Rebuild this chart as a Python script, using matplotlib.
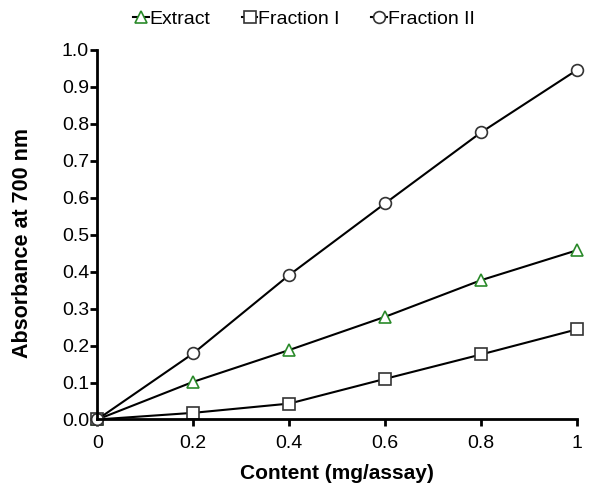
import matplotlib.pyplot as plt

plt.rcParams['font.family'] = ['Liberation Sans', 'DejaVu Sans']

content = [0, 0.2, 0.4, 0.6, 0.8, 1.0]
extract = [0.0, 0.102, 0.188, 0.278, 0.377, 0.458]
fraction1 = [0.0, 0.018, 0.043, 0.110, 0.176, 0.244]
fraction2 = [0.0, 0.179, 0.391, 0.585, 0.777, 0.946]

xticks = [0, 0.2, 0.4, 0.6, 0.8, 1.0]
xticklabels = ['0', '0.2', '0.4', '0.6', '0.8', '1']
yticks = [0.0, 0.1, 0.2, 0.3, 0.4, 0.5, 0.6, 0.7, 0.8, 0.9, 1.0]

fig = plt.figure(figsize=(5.9, 4.83), dpi=100)
ax = fig.add_axes([0.165, 0.1315, 0.813, 0.765])

green = '#2a8a2a'
ax.plot(content, extract, color='black', lw=1.5, marker='^', ms=8,
        mfc='white', mec=green, mew=1.2, label='Extract', clip_on=False)
ax.plot(content, fraction1, color='black', lw=1.5, marker='s', ms=8,
        mfc='white', mec='#333333', mew=1.2, label='Fraction I', clip_on=False)
ax.plot(content, fraction2, color='black', lw=1.5, marker='o', ms=8.5,
        mfc='white', mec='#333333', mew=1.2, label='Fraction II', clip_on=False)

ax.set_xlim(0, 1)
ax.set_ylim(0, 1.0)
ax.set_xticks(xticks)
ax.set_xticklabels(xticklabels)
ax.set_yticks(yticks)
ax.set_yticklabels([f'{v:.1f}' for v in yticks])

for s in ['top', 'right']:
    ax.spines[s].set_visible(False)
for s in ['left', 'bottom']:
    ax.spines[s].set_linewidth(2)
ax.tick_params(width=2, length=5, labelsize=14)
ax.tick_params(axis='x', pad=6)
ax.tick_params(axis='y', pad=1)

ax.set_xlabel('Content (mg/assay)', fontsize=15, fontweight='bold', labelpad=9)
ax.set_ylabel('Absorbance at 700 nm', fontsize=15.5, fontweight='bold')
ax.yaxis.set_label_coords(-0.134, 0.478)

fig.legend(loc='center', bbox_to_anchor=(0.515, 0.96), ncol=3, frameon=False,
           fontsize=14, handlelength=0.8, handletextpad=0.05, columnspacing=1.6)

fig.savefig('out.png', dpi=100)
